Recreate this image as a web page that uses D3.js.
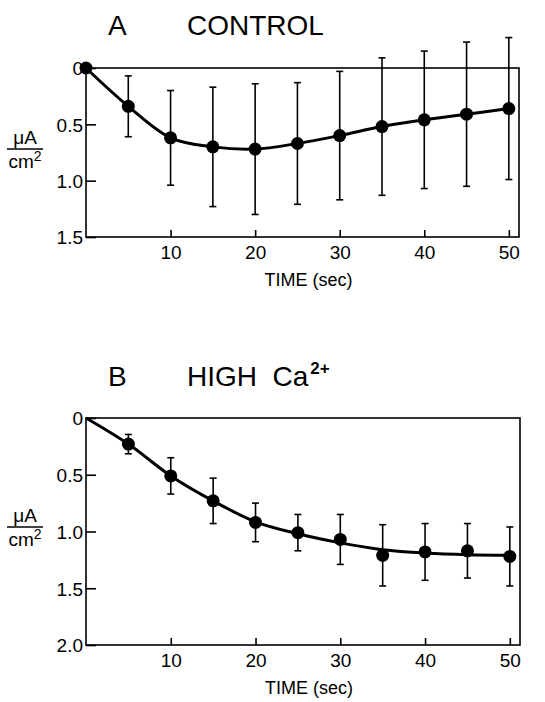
<!DOCTYPE html>
<html>
<head>
<meta charset="utf-8">
<script src="https://cdn.jsdelivr.net/npm/d3@7"></script>
<style>
  body { margin: 0; background: #fff; }
  svg { display: block; font-family: "Liberation Sans", Arial, Helvetica, sans-serif; }
  .tick text { font-size: 19px; fill: #000; }
</style>
</head>
<body>
<div id="chart"></div>
<script>
// time points (sec)
const timeA = [0, 5, 10, 15, 20, 25, 30, 35, 40, 45, 50];
const meanA = [0, 0.34, 0.62, 0.70, 0.72, 0.67, 0.60, 0.52, 0.46, 0.41, 0.36];
const errA = [0, 0.27, 0.42, 0.53, 0.58, 0.54, 0.57, 0.61, 0.61, 0.64, 0.63];

const timeB = [5, 10, 15, 20, 25, 30, 35, 40, 45, 50];
const meanB = [0.23, 0.51, 0.73, 0.92, 1.01, 1.07, 1.21, 1.18, 1.17, 1.22];
const errB = [0.085, 0.16, 0.20, 0.17, 0.16, 0.22, 0.27, 0.25, 0.24, 0.26];

// fitted curve drawn through panel B
const fitTimeB = [0, 5, 10, 15, 20, 25, 30, 35, 40, 45, 50];
const fitB = [0, 0.23, 0.51, 0.73, 0.915, 1.02, 1.10, 1.16, 1.19, 1.205, 1.21];

const xTicks = [10, 20, 30, 40, 50];
const yTicksA = [0, 0.5, 1.0, 1.5];
const yTicksB = [0, 0.5, 1.0, 1.5, 2.0];

const width = 545;
const height = 702;

const svg = d3.select('#chart').append('svg')
    .attr('width', width)
    .attr('height', height);

const fmt = d => (d === 0 ? '0' : d3.format('.1f')(d));

const drawPanel = ({ top, bottom, right, yMax, yTicks, letter, title, sup, titleY, labelY, points, curve }) => {
    const x = d3.scaleLinear().domain([0, 51.2]).range([86, right]);
    const y = d3.scaleLinear().domain([0, yMax]).range([top, bottom]);

    const g = svg.append('g');

    // frame
    g.append('rect')
        .attr('x', x(0)).attr('y', y(0))
        .attr('width', x(51.2) - x(0)).attr('height', y(yMax) - y(0))
        .attr('fill', 'none').attr('stroke', '#000').attr('stroke-width', 1.6);

    const yAxis = g.append('g')
        .attr('transform', `translate(${x(0)},0)`)
        .call(d3.axisLeft(y).tickValues(yTicks).tickSize(-10).tickPadding(3).tickFormat(fmt));
    yAxis.select('.domain').remove();
    yAxis.selectAll('.tick line').attr('stroke-width', 1.6);
    yAxis.selectAll('.tick text').attr('dy', '0.36em');

    const xAxis = g.append('g')
        .attr('transform', `translate(0,${y(yMax)})`)
        .call(d3.axisBottom(x).tickValues(xTicks).tickSize(-7).tickPadding(9));
    xAxis.select('.domain').remove();
    xAxis.selectAll('.tick line').attr('stroke-width', 1.6);

    g.append('text')
        .attr('x', (x(0) + x(51.2)) / 2 + 6)
        .attr('y', y(yMax) + 49)
        .attr('text-anchor', 'middle')
        .style('font-size', '18px')
        .text('TIME (sec)');

    // y label fraction
    g.append('text')
        .attr('x', 25).attr('y', labelY - 5)
        .attr('text-anchor', 'middle')
        .style('font-size', '19px')
        .text('\u03bcA');
    g.append('line')
        .attr('x1', 7).attr('x2', 43)
        .attr('y1', labelY).attr('y2', labelY)
        .attr('stroke', '#000').attr('stroke-width', 1.5);
    const cm = g.append('text')
        .attr('x', 25).attr('y', labelY + 19)
        .attr('text-anchor', 'middle')
        .style('font-size', '19px');
    cm.append('tspan').text('cm');
    cm.append('tspan').attr('dy', -7).style('font-size', '14px').text('2');

    // title
    g.append('text')
        .attr('x', 108).attr('y', titleY)
        .style('font-size', '28px')
        .text(letter);
    const t = g.append('text')
        .attr('x', 187).attr('y', titleY)
        .style('font-size', '28px')
        .style('white-space', 'pre')
        .text(title);
    if (sup) {
        t.append('tspan').attr('dy', -12).attr('dx', 2)
            .style('font-size', '17px').style('font-weight', 'bold')
            .text(sup);
    }

    // fitted curve
    g.append('path')
        .datum(curve)
        .attr('fill', 'none')
        .attr('stroke', '#000')
        .attr('stroke-width', 3)
        .attr('d', d3.line().x(d => x(d[0])).y(d => y(d[1])).curve(d3.curveCatmullRom.alpha(0.5)));

    // error bars
    const bars = g.append('g').selectAll('g')
        .data(points.filter(d => d[2] > 0))
        .join('g');
    bars.append('line')
        .attr('x1', d => x(d[0])).attr('x2', d => x(d[0]))
        .attr('y1', d => y(d[1] - d[2])).attr('y2', d => y(d[1] + d[2]))
        .attr('stroke', '#000').attr('stroke-width', 1.6);
    [-1, 1].forEach(s => {
        bars.append('line')
            .attr('x1', d => x(d[0]) - 3.5).attr('x2', d => x(d[0]) + 3.5)
            .attr('y1', d => y(d[1] + s * d[2])).attr('y2', d => y(d[1] + s * d[2]))
            .attr('stroke', '#000').attr('stroke-width', 1.6);
    });

    g.append('g').selectAll('circle')
        .data(points)
        .join('circle')
        .attr('cx', d => x(d[0]))
        .attr('cy', d => y(d[1]))
        .attr('r', 6.5)
        .attr('fill', '#000');
};

drawPanel({
    top: 68, bottom: 237, right: 519, yMax: 1.5, yTicks: yTicksA,
    letter: 'A', title: 'CONTROL', sup: null, titleY: 35, labelY: 149,
    points: timeA.map((t, i) => [t, meanA[i], errA[i]]),
    curve: timeA.map((t, i) => [t, meanA[i]])
});

drawPanel({
    top: 418, bottom: 645, right: 520, yMax: 2.0, yTicks: yTicksB,
    letter: 'B', title: 'HIGH  Ca', sup: '2+', titleY: 386, labelY: 527,
    points: timeB.map((t, i) => [t, meanB[i], errB[i]]),
    curve: fitTimeB.map((t, i) => [t, fitB[i]])
});
</script>
</body>
</html>
